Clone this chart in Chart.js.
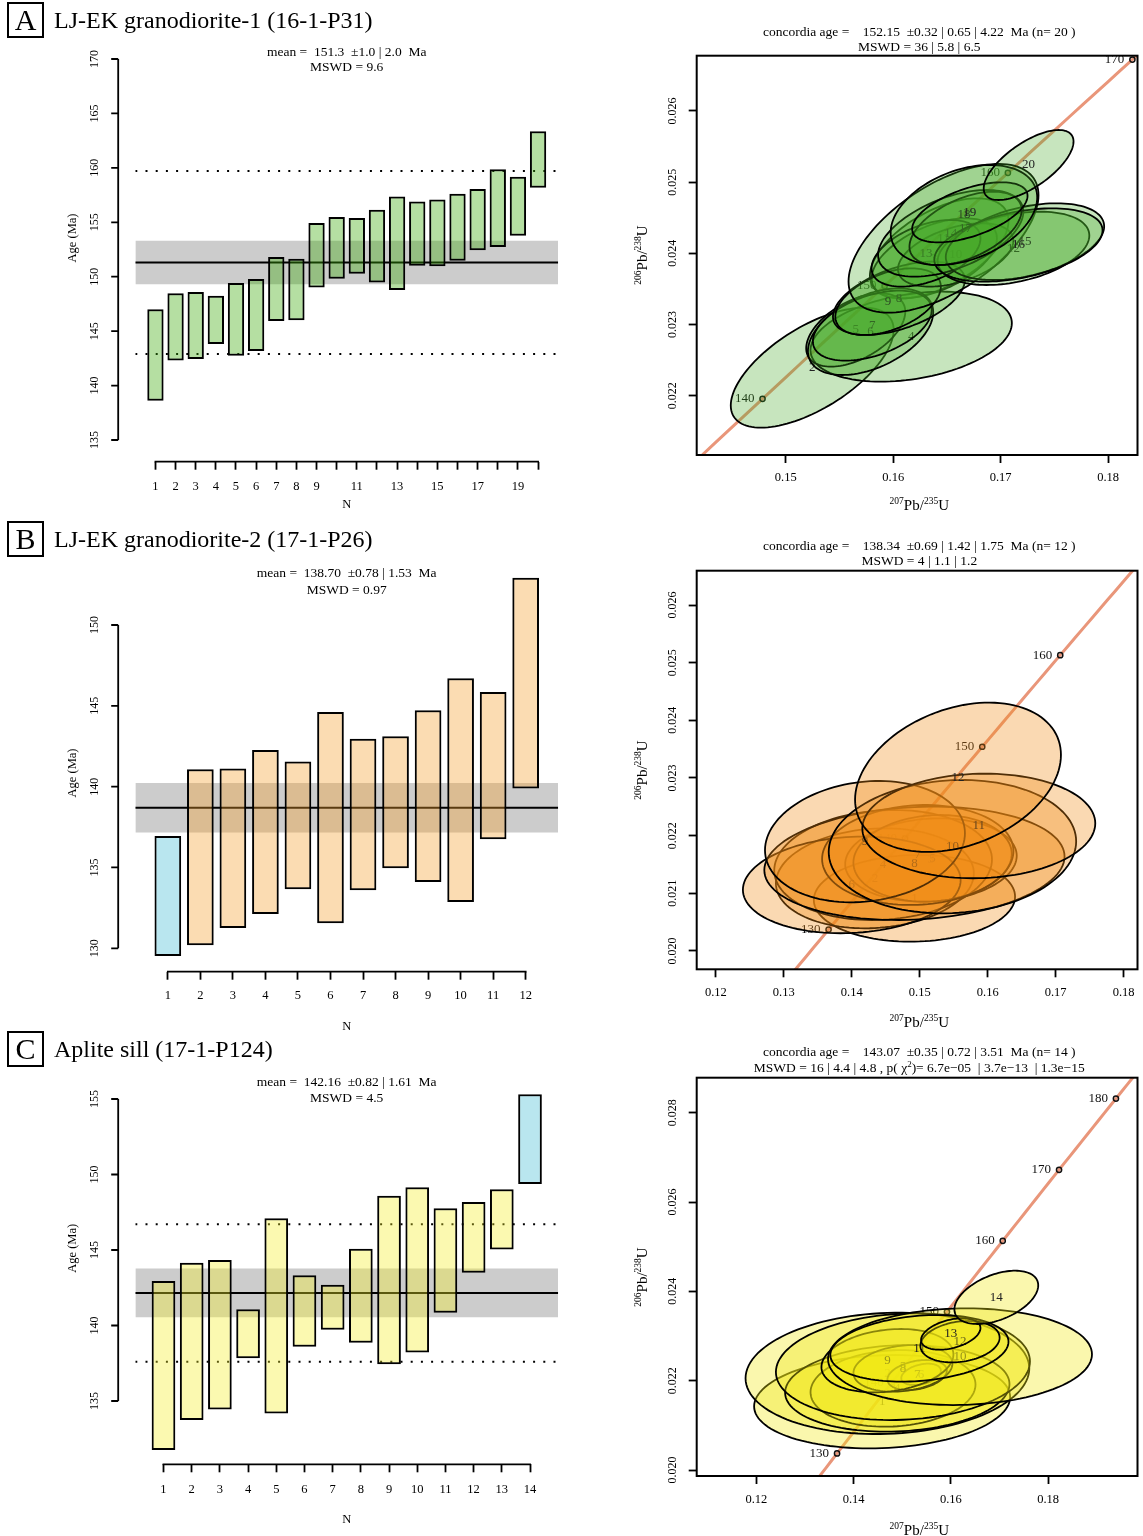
<!DOCTYPE html>
<html>
<head>
<meta charset="utf-8">
<title>Zircon U-Pb ages</title>
<script src="https://cdn.jsdelivr.net/npm/chart.js@4.4.1/dist/chart.umd.min.js"></script>
<style>
  html, body { margin: 0; padding: 0; background: #fff; }
  body { width: 1143px; height: 1536px; overflow: hidden; position: relative;
         font-family: "Liberation Serif", "Times New Roman", serif; color: #000; }
  canvas { position: absolute; }
  .head { position: absolute; left: 7px; height: 36px; display: flex; align-items: center; z-index: 2; }
  .tag { box-sizing: border-box; width: 37px; height: 36px; border: 2px solid #000;
         font-size: 30px; display: flex; align-items: center; justify-content: center; }
  .name { margin-left: 10px; font-size: 24px; }
  .note { position: absolute; width: 520px; text-align: center; white-space: pre; font-size: 13.5px; z-index: 2; }
  .note sup { font-size: 9px; line-height: 0; }
  .axt { position: absolute; width: 300px; height: 18px; line-height: 18px; text-align: center;
         font-size: 15px; white-space: nowrap; z-index: 2; }
  .axt sup { font-size: 9.5px; line-height: 0; }
  .axt.vert { transform: rotate(-90deg); transform-origin: 50% 50%; }
</style>
</head>
<body>

<div class="head" style="top:2px"><span class="tag">A</span><span class="name">LJ-EK granodiorite-1 (16-1-P31)</span></div>
<div class="head" style="top:521px"><span class="tag">B</span><span class="name">LJ-EK granodiorite-2 (17-1-P26)</span></div>
<div class="head" style="top:1031px"><span class="tag">C</span><span class="name">Aplite sill (17-1-P124)</span></div>

<div class="note" style="left:86.7px;top:43.5px;line-height:15px">mean =  151.3  ±1.0 | 2.0  Ma
MSWD = 9.6</div>
<div class="note" style="left:86.7px;top:565px;line-height:16.7px">mean =  138.70  ±0.78 | 1.53  Ma
MSWD = 0.97</div>
<div class="note" style="left:86.7px;top:1074px;line-height:16px">mean =  142.16  ±0.82 | 1.61  Ma
MSWD = 4.5</div>

<div class="note" style="left:659.3px;top:23.5px;line-height:15px">concordia age =    152.15  ±0.32 | 0.65 | 4.22  Ma (n= 20 )
MSWD = 36 | 5.8 | 6.5</div>
<div class="note" style="left:659.3px;top:537.5px;line-height:15px">concordia age =    138.34  ±0.69 | 1.42 | 1.75  Ma (n= 12 )
MSWD = 4 | 1.1 | 1.2</div>
<div class="note" style="left:659.3px;top:1043.7px;line-height:16px">concordia age =    143.07  ±0.35 | 0.72 | 3.51  Ma (n= 14 )
MSWD = 16 | 4.4 | 4.8 , p( χ<sup>2</sup>)= 6.7e−05  | 3.7e−13  | 1.3e−15</div>

<!-- isotope ratio axis titles of the concordia diagrams -->
<div class="axt" style="left:769.3px;top:496px"><sup>207</sup>Pb/<sup>235</sup>U</div>
<div class="axt vert" style="left:491.7px;top:246.3px"><sup>206</sup>Pb/<sup>238</sup>U</div>
<div class="axt" style="left:769.3px;top:1012.7px"><sup>207</sup>Pb/<sup>235</sup>U</div>
<div class="axt vert" style="left:491.7px;top:761px"><sup>206</sup>Pb/<sup>238</sup>U</div>
<div class="axt" style="left:769.3px;top:1521px"><sup>207</sup>Pb/<sup>235</sup>U</div>
<div class="axt vert" style="left:491.7px;top:1267.8px"><sup>206</sup>Pb/<sup>238</sup>U</div>

<canvas id="wmA" width="570" height="520" style="left:0;top:0"></canvas>
<canvas id="wmB" width="570" height="520" style="left:0;top:520px"></canvas>
<canvas id="wmC" width="570" height="520" style="left:0;top:1030px"></canvas>
<canvas id="ccA" width="523" height="505" style="left:620px;top:15px"></canvas>
<canvas id="ccB" width="523" height="510" style="left:620px;top:530px"></canvas>
<canvas id="ccC" width="523" height="510" style="left:620px;top:1040px"></canvas>

<script>
// ---------- weighted mean plots: single-grain 206Pb/238U age ranges (Ma), sorted ----------
const lowA  = [138.61, 142.31, 142.44, 143.81, 142.74, 143.17, 145.93, 145.99, 149.02, 149.82,
               150.28, 149.48, 148.78, 151.01, 150.95, 151.47, 152.42, 152.73, 153.77, 158.18];
const highA = [147.00, 148.47, 148.59, 148.26, 149.42, 149.79, 151.81, 151.66, 154.93, 155.48,
               155.39, 156.16, 157.38, 156.92, 157.10, 157.63, 158.06, 159.87, 159.19, 163.36];
const meanA = 151.3, errA = 2.0;
const dotsA = [142.9, 159.7];
const rejectA = [];
const ageTicksA = [135, 140, 145, 150, 155, 160, 165, 170];
const nLabelsA = [1, 2, 3, 4, 5, 6, 7, 8, 9, 11, 13, 15, 17, 19];

const lowB  = [129.53, 130.19, 131.26, 132.12, 133.65, 131.55, 133.59, 134.95, 134.10, 132.87, 136.74, 139.88];
const highB = [136.95, 141.07, 141.13, 142.27, 141.55, 144.62, 142.97, 143.11, 144.72, 146.70, 145.86, 152.93];
const meanB = 138.70, errB = 1.53;
const dotsB = [];
const rejectB = [1];
const ageTicksB = [130, 135, 140, 145, 150];
const nLabelsB = [1, 2, 3, 4, 5, 6, 7, 8, 9, 10, 11, 12];

const lowC  = [131.75, 133.74, 134.43, 137.83, 134.18, 138.60, 139.72, 138.86, 137.43, 138.22, 140.85, 143.50, 145.04, 149.37];
const highC = [142.95, 144.16, 144.34, 141.07, 147.10, 143.32, 142.70, 145.09, 148.60, 149.15, 147.76, 148.18, 149.02, 155.31];
const meanC = 142.16, errC = 1.61;
const dotsC = [137.6, 146.7];
const rejectC = [14];
const ageTicksC = [135, 140, 145, 150, 155];
const nLabelsC = [1, 2, 3, 4, 5, 6, 7, 8, 9, 10, 11, 12, 13, 14];

// ---------- concordia plots: ellipse centres, half-widths and error correlations ----------
const ellA_x   = [0.16428, 0.15246, 0.16382, 0.16167, 0.15651, 0.15789, 0.15805, 0.16053, 0.15952, 0.16581,
                  0.16468, 0.17119, 0.16305, 0.16535, 0.17226, 0.17165, 0.16673, 0.16658, 0.16713, 0.17260];
const ellA_sx  = [0.00645, 0.00758, 0.00583, 0.00937, 0.00461, 0.00583, 0.00553, 0.00614, 0.00491, 0.00537,
                  0.00884, 0.00706, 0.00507, 0.00676, 0.00737, 0.00783, 0.00522, 0.00682, 0.00537, 0.00418];
const ellA_y   = [0.024070, 0.022393, 0.023930, 0.022829, 0.022923, 0.022899, 0.022984, 0.023368, 0.023321, 0.023977,
                  0.024211, 0.024070, 0.024000, 0.024281, 0.024164, 0.024117, 0.024351, 0.024539, 0.024576, 0.025241];
const ellA_sy  = [0.000703, 0.000843, 0.000562, 0.000632, 0.000515, 0.000609, 0.000492, 0.000515, 0.000468, 0.000445,
                  0.001045, 0.000515, 0.000468, 0.000609, 0.000539, 0.000515, 0.000515, 0.000703, 0.000422, 0.000492];
const ellA_rho = [0.55, 0.63, 0.50, 0.30, 0.50, 0.45, 0.45, 0.50, 0.45, 0.45,
                  0.58, 0.35, 0.45, 0.50, 0.40, 0.40, 0.50, 0.35, 0.55, 0.67];
const agesA = [140, 150, 160, 170];

const ellB_x   = [0.14922, 0.14340, 0.15165, 0.14461, 0.15189, 0.14000, 0.14971, 0.14922, 0.14194, 0.15481, 0.15869, 0.15563];
const ellB_sx  = [0.014806, 0.014563, 0.012621, 0.016019, 0.011650, 0.016019, 0.014078, 0.022087, 0.014709, 0.018204, 0.017136, 0.015146];
const ellB_y   = [0.020913, 0.021260, 0.021578, 0.021491, 0.021607, 0.021145, 0.021665, 0.021520, 0.021896, 0.021809, 0.022168, 0.023012];
const ellB_sy  = [0.000751, 0.000867, 0.000723, 0.000954, 0.000751, 0.000838, 0.000867, 0.000983, 0.001052, 0.001156, 0.000907, 0.001295];
const ellB_rho = [0.04, 0.10, 0.10, 0.10, 0.10, 0.10, 0.08, 0.12, 0.14, 0.08, 0.05, 0.30];
const agesB = [130, 140, 150, 160];

const ellC_x   = [0.14586, 0.14695, 0.14810, 0.14898, 0.15014, 0.15387, 0.15306, 0.15014, 0.14695, 0.16188, 0.15353, 0.16188, 0.15998, 0.16935];
const ellC_sx  = [0.026335, 0.029186, 0.016969, 0.023078, 0.026132, 0.004073, 0.006109, 0.010181, 0.013575, 0.027150, 0.018326, 0.008145, 0.006109, 0.008620];
const ellC_y   = [0.021530, 0.022164, 0.021828, 0.021828, 0.022313, 0.022142, 0.022127, 0.022276, 0.022448, 0.022537, 0.022724, 0.022873, 0.023045, 0.023866];
const ellC_sy  = [0.001045, 0.001358, 0.000858, 0.000970, 0.001194, 0.000239, 0.000336, 0.000522, 0.000709, 0.001082, 0.000746, 0.000463, 0.000351, 0.000597];
const ellC_rho = [0.10, 0.08, 0.10, 0.10, 0.10, 0.35, 0.30, 0.20, 0.20, 0.05, 0.20, 0.20, 0.38, 0.45];
const agesC = [130, 140, 150, 160, 170, 180];

const ratioTicks = {
  A: { x: [0.15, 0.16, 0.17, 0.18], y: [0.022, 0.023, 0.024, 0.025, 0.026] },
  B: { x: [0.12, 0.13, 0.14, 0.15, 0.16, 0.17, 0.18], y: [0.020, 0.021, 0.022, 0.023, 0.024, 0.025, 0.026] },
  C: { x: [0.12, 0.14, 0.16, 0.18], y: [0.020, 0.022, 0.024, 0.026, 0.028] },
};

// U decay constants (per Myr) for the concordia curve
const L235 = 9.8485e-4, L238 = 1.55125e-4;
const concordia = t => ({ x: Math.expm1(L235 * t), y: Math.expm1(L238 * t) });
const curve = [];
for (let t = 100; t <= 200; t++) curve.push(concordia(t));

Chart.defaults.font.family = '"Liberation Serif", "Times New Roman", serif';
Chart.defaults.color = '#000';

const OUT_FILL = 'rgba(100,200,220,0.45)';
const setTicks = vals => ax => { ax.ticks = vals.map(v => ({ value: v })); };

// R-style axes: y axis line pulled away from the plot region, x axis line spans first..last tick
function rAxes(gap) {
  return {
    id: 'rAxes',
    afterDraw(chart) {
      const { ctx, chartArea: a, scales: { x, y } } = chart;
      const yt = y.ticks.map(t => t.value), xt = x.ticks.map(t => t.value);
      const x0 = a.left - gap;
      ctx.save();
      ctx.strokeStyle = '#000';
      ctx.lineWidth = 1.8;
      ctx.beginPath();
      ctx.moveTo(x0, y.getPixelForValue(Math.min(...yt)));
      ctx.lineTo(x0, y.getPixelForValue(Math.max(...yt)));
      yt.forEach(v => {
        const py = y.getPixelForValue(v);
        ctx.moveTo(x0 - 7, py);
        ctx.lineTo(x0, py);
      });
      ctx.moveTo(x.getPixelForValue(Math.min(...xt)) - 0.9, a.bottom);
      ctx.lineTo(x.getPixelForValue(Math.max(...xt)) + 0.9, a.bottom);
      ctx.stroke();
      ctx.restore();
    }
  };
}

function meanChart(id, d, f) {
  const n = d.lo.length;
  const span = v => [{ x: 0, y: v }, { x: n + 1, y: v }];
  const nTicks = d.lo.map((_, i) => i + 1);
  const datasets = [
    { type: 'bar', order: 0,
      data: d.lo.map((lo, i) => ({ x: i + 1, y: [lo, d.hi[i]] })),
      backgroundColor: d.lo.map((_, i) => d.reject.includes(i + 1) ? OUT_FILL : d.fill),
      borderColor: '#000', borderWidth: 2, borderSkipped: false,
      barPercentage: f.bar, categoryPercentage: 1 },
    { type: 'line', order: 1, data: span(d.mean), borderColor: '#000', borderWidth: 2, pointRadius: 0 },
    { type: 'line', order: 2, data: span(d.mean + d.err), borderColor: 'rgba(0,0,0,0)', borderWidth: 0,
      pointRadius: 0, backgroundColor: '#cccccc', fill: { value: d.mean - d.err } },
  ];
  d.dots.forEach(v => datasets.push({
    type: 'line', order: 1, data: span(v), borderColor: '#000', borderWidth: 2,
    borderDash: [2, 8.2], pointRadius: 0
  }));

  return new Chart(document.getElementById(id), {
    type: 'bar',
    data: { datasets },
    options: {
      responsive: false, animation: false, devicePixelRatio: 1, events: [],
      layout: { padding: { top: f.top, right: 11.8, bottom: 0, left: 0 } },
      plugins: { legend: { display: false }, tooltip: { enabled: false } },
      scales: {
        x: {
          type: 'linear', bounds: 'data', min: 0, max: n + 1, offset: false,
          afterBuildTicks: setTicks(nTicks),
          afterFit: s => { s.height = f.xBox; s.paddingLeft = 0; s.paddingRight = 0; },
          grid: { display: true, drawOnChartArea: false, drawTicks: true, tickLength: 8,
                  tickWidth: 1.8, tickColor: '#000', offset: false },
          border: { display: false },
          ticks: { autoSkip: false, maxRotation: 0, padding: f.xPad, font: { size: 12.5 },
                   callback: v => d.labels.includes(v) ? String(v) : '' },
          title: { display: true, text: 'N', font: { size: 12.5 }, padding: { top: 0, bottom: f.nPad } }
        },
        y: {
          type: 'linear', bounds: 'data', min: f.yMin, max: f.yMax,
          afterBuildTicks: setTicks(d.ticks),
          afterFit: s => { s.width = 135.3; s.paddingTop = 0; s.paddingBottom = 0; },
          grid: { display: false, drawTicks: false },
          border: { display: false },
          ticks: { autoSkip: false, minRotation: 90, maxRotation: 90, crossAlign: 'center',
                   padding: 31, font: { size: 12 } },
          title: { display: true, text: 'Age (Ma)', font: { size: 12.5 }, padding: { top: 65.2, bottom: 0 } }
        }
      }
    },
    plugins: [rAxes(17.1)]
  });
}

// error ellipses drawn in data space through the chart's scales, numbered in analysis order
function ellipseLayer(e) {
  return {
    id: 'ellipses',
    afterDatasetsDraw(chart) {
      const { ctx, chartArea: a, scales: { x, y } } = chart;
      ctx.save();
      ctx.beginPath();
      ctx.rect(a.left, a.top, a.width, a.height);
      ctx.clip();
      ctx.font = '13px "Liberation Serif", serif';
      ctx.textBaseline = 'middle';

      ctx.fillStyle = '#111';
      ctx.textAlign = 'right';
      e.ages.forEach(t => {
        const p = concordia(t);
        ctx.fillText(String(t), x.getPixelForValue(p.x) - 8, y.getPixelForValue(p.y));
      });

      ctx.textAlign = 'center';
      e.x.forEach((cx, i) => {
        const sx = e.sx[i], cy = e.y[i], sy = e.sy[i], r = e.rho[i];
        const q = Math.sqrt(1 - r * r);
        ctx.beginPath();
        for (let k = 0; k <= 120; k++) {
          const t = k / 120 * 2 * Math.PI;
          const px = x.getPixelForValue(cx + sx * Math.cos(t));
          const py = y.getPixelForValue(cy + sy * (r * Math.cos(t) + q * Math.sin(t)));
          if (k) ctx.lineTo(px, py); else ctx.moveTo(px, py);
        }
        ctx.closePath();
        ctx.fillStyle = e.fill;
        ctx.fill();
        ctx.lineWidth = 1.8;
        ctx.strokeStyle = '#000';
        ctx.stroke();
        ctx.fillStyle = '#222';
        ctx.fillText(String(i + 1), x.getPixelForValue(cx), y.getPixelForValue(cy));
      });
      ctx.restore();

      ctx.save();
      ctx.lineWidth = 2;
      ctx.strokeStyle = '#000';
      ctx.strokeRect(a.left, a.top, a.width, a.height);
      ctx.restore();
    }
  };
}

function concordiaChart(id, e, tk, f) {
  return new Chart(document.getElementById(id), {
    type: 'scatter',
    data: {
      datasets: [
        { order: 0, data: e.ages.map(concordia), pointStyle: 'circle', pointRadius: 2.6,
          pointBorderWidth: 1.5, pointBorderColor: '#111', pointBackgroundColor: 'rgba(0,0,0,0)' },
        { order: 1, data: curve, showLine: true, pointRadius: 0, borderColor: 'rgb(233,150,122)', borderWidth: 3 }
      ]
    },
    options: {
      responsive: false, animation: false, devicePixelRatio: 1, events: [],
      layout: { padding: { top: f.top, right: 1, bottom: 0, left: 0 } },
      plugins: { legend: { display: false }, tooltip: { enabled: false } },
      scales: {
        x: {
          type: 'linear', bounds: 'data', min: f.xMin, max: f.xMax,
          afterBuildTicks: setTicks(tk.x),
          afterFit: s => { s.height = f.xBox; s.paddingLeft = 0; s.paddingRight = 0; },
          grid: { display: true, drawOnChartArea: false, tickLength: 8, tickWidth: 1.8, tickColor: '#000' },
          border: { display: false },
          ticks: { autoSkip: false, maxRotation: 0, padding: f.xPad, font: { size: 12.5 },
                   callback: v => v.toFixed(2) },
          title: { display: false }
        },
        y: {
          type: 'linear', bounds: 'data', min: f.yMin, max: f.yMax,
          afterBuildTicks: setTicks(tk.y),
          afterFit: s => { s.width = 76.7; s.paddingTop = 0; s.paddingBottom = 0; },
          grid: { display: true, drawOnChartArea: false, tickLength: 8, tickWidth: 1.8, tickColor: '#000' },
          border: { display: false },
          ticks: { autoSkip: false, minRotation: 90, maxRotation: 90, crossAlign: 'center',
                   padding: 1.9, font: { size: 12 }, callback: v => v.toFixed(3) },
          title: { display: false }
        }
      }
    },
    plugins: [ellipseLayer(e)]
  });
}

meanChart('wmA',
  { lo: lowA, hi: highA, mean: meanA, err: errA, dots: dotsA, reject: rejectA, ticks: ageTicksA,
    labels: nLabelsA, fill: 'rgba(60,170,10,0.38)' },
  { top: 14.3, xBox: 58.3, xPad: 9.5, nPad: 7.5, yMin: 133.007, yMax: 174.106, bar: 0.81 });
meanChart('wmB',
  { lo: lowB, hi: highB, mean: meanB, err: errB, dots: dotsB, reject: rejectB, ticks: ageTicksB,
    labels: nLabelsB, fill: 'rgba(245,160,45,0.37)' },
  { top: 54.3, xBox: 68.3, xPad: 8.8, nPad: 5.5, yMin: 128.552, yMax: 153.136, bar: 0.82 });
meanChart('wmC',
  { lo: lowC, hi: highC, mean: meanC, err: errC, dots: dotsC, reject: rejectC, ticks: ageTicksC,
    labels: nLabelsC, fill: 'rgba(245,240,40,0.37)' },
  { top: 2.3, xBox: 85.7, xPad: 10.2, nPad: 22.5, yMin: 130.808, yMax: 159.417, bar: 0.84 });

concordiaChart('ccA',
  { x: ellA_x, sx: ellA_sx, y: ellA_y, sy: ellA_sy, rho: ellA_rho, ages: agesA, fill: 'rgba(70,170,40,0.3)' },
  ratioTicks.A,
  { top: 40.7, xBox: 65, xPad: 7.5, xMin: 0.141709, xMax: 0.182733, yMin: 0.021166, yMax: 0.026777 });
concordiaChart('ccB',
  { x: ellB_x, sx: ellB_sx, y: ellB_y, sy: ellB_sy, rho: ellB_rho, ages: agesB, fill: 'rgba(240,140,20,0.33)' },
  ratioTicks.B,
  { top: 40.7, xBox: 70.7, xPad: 7.9, xMin: 0.117184, xMax: 0.182039, yMin: 0.019682, yMax: 0.026595 });
concordiaChart('ccC',
  { x: ellC_x, sx: ellC_sx, y: ellC_y, sy: ellC_sy, rho: ellC_rho, ages: agesC, fill: 'rgba(240,232,20,0.35)' },
  ratioTicks.C,
  { top: 37.7, xBox: 74, xPad: 8.5, xMin: 0.107715, xMax: 0.198393, yMin: 0.019866, yMax: 0.028784 });
</script>
</body>
</html>
